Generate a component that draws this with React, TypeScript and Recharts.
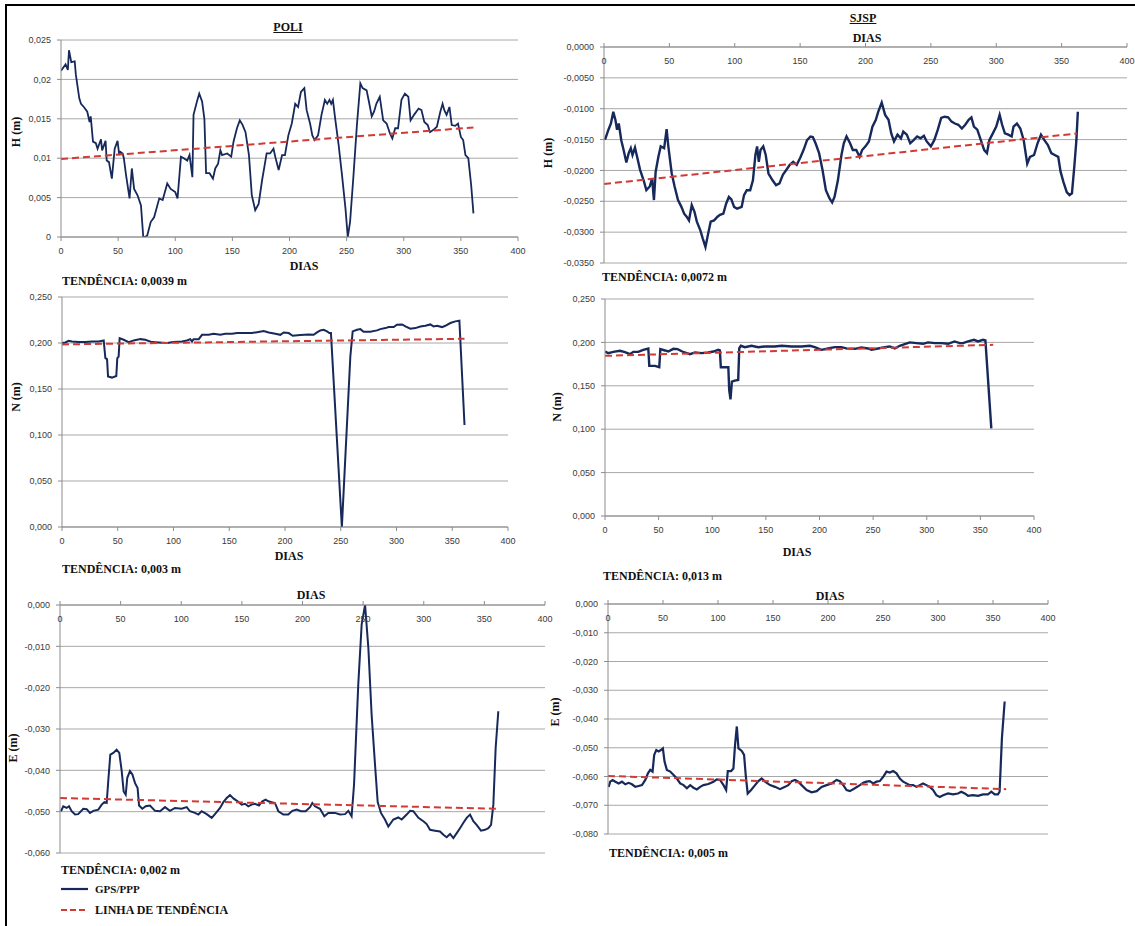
import { LineChart, Line, XAxis, YAxis, CartesianGrid } from 'recharts'

const SERIF = '"Liberation Serif", "Times New Roman", "DejaVu Serif", serif'
const SANS = '"Liberation Sans", Arial, sans-serif'
const NAVY = '#17295a'
const RED = '#d23a35'
const GRID = '#a8a8a8'
const AXIS = '#8c8c8c'
const TICK_TEXT = '#3a3a3a'

const dayTicks = [0, 50, 100, 150, 200, 250, 300, 350, 400]
const poliHTicks = [0, 0.005, 0.01, 0.015, 0.02, 0.025]
const sjspHTicks = [-0.035, -0.03, -0.025, -0.02, -0.015, -0.01, -0.005, 0]
const nTicks = [0, 0.05, 0.1, 0.15, 0.2, 0.25]
const poliETicks = [-0.06, -0.05, -0.04, -0.03, -0.02, -0.01, 0]
const sjspETicks = [-0.08, -0.07, -0.06, -0.05, -0.04, -0.03, -0.02, -0.01, 0]

// [dia, valor em m]
const poliH: [number, number][] = [
  [0, 0.0211], [4, 0.0219], [6, 0.0212], [7, 0.0237], [9, 0.0222], [12, 0.0223], [13, 0.0206],
  [16, 0.0176], [17.5, 0.0169], [20, 0.0165], [23, 0.0159], [25, 0.0146], [26, 0.0153], [28, 0.0121],
  [30.5, 0.0119], [32, 0.0112], [35, 0.0124], [36, 0.011], [39, 0.0122], [40, 0.0097], [42, 0.0095],
  [44.5, 0.0074], [47, 0.0112], [49.5, 0.0122], [51, 0.0104], [52, 0.0108], [54, 0.0106], [55, 0.01],
  [57, 0.0078], [60, 0.0049], [62, 0.0087], [64, 0.0061], [67, 0.0053], [70, 0.004], [72, 0.0],
  [73.5, 0.0], [75.5, 0.0002], [78.5, 0.0019], [81.5, 0.0025], [86, 0.0049], [89, 0.0047], [93, 0.0068],
  [96, 0.0061], [100, 0.0057], [102, 0.0049], [105, 0.0102], [107.5, 0.01], [110.5, 0.0097],
  [112.5, 0.0104], [115, 0.0076], [116, 0.0155], [119, 0.0172], [121, 0.0182], [123.5, 0.0172],
  [125.5, 0.015], [127, 0.0081], [130, 0.0081], [133, 0.0074], [135, 0.0087], [137.5, 0.0093],
  [139.5, 0.011], [141, 0.0104], [145.5, 0.0106], [149, 0.0102], [151, 0.0121], [154, 0.0138],
  [156.5, 0.0148], [159, 0.0142], [161.5, 0.0133], [164.5, 0.0104], [167, 0.0053], [170, 0.0034],
  [173, 0.0042], [176, 0.0072], [178, 0.0089], [180, 0.0106], [183, 0.0106], [186, 0.0112],
  [187.5, 0.0102], [190.5, 0.0085], [193.5, 0.0104], [196, 0.0104], [199, 0.0129], [202, 0.0144],
  [205, 0.0169], [207.5, 0.0165], [210, 0.0184], [213, 0.0189], [215, 0.0161], [218, 0.0144],
  [220, 0.0129], [222, 0.0123], [225, 0.0129], [228, 0.0155], [231, 0.0174], [233, 0.0169],
  [235, 0.0174], [236.5, 0.0169], [238, 0.0174], [240, 0.015], [243, 0.0117], [246, 0.0078],
  [249, 0.0036], [251, 0.0], [253, 0.0019], [256, 0.0078], [259, 0.0142], [262, 0.0195], [264, 0.0189],
  [267.5, 0.0186], [269.5, 0.0172], [272, 0.0153], [274, 0.0159], [276, 0.0169], [279, 0.0178],
  [282, 0.0148], [285, 0.0144], [288, 0.0131], [290, 0.0125], [292.5, 0.0138], [295, 0.0138],
  [298, 0.0174], [301, 0.0182], [304, 0.0178], [306, 0.0148], [309, 0.0155], [313, 0.0163],
  [315.5, 0.0161], [318, 0.0146], [321, 0.0142], [323, 0.0133], [326, 0.0136], [329, 0.014],
  [332, 0.0159], [334, 0.0169], [335.5, 0.0161], [337.5, 0.0155], [340, 0.0165], [342, 0.0142],
  [345, 0.0141], [347.5, 0.0144], [350, 0.0127], [352, 0.0123], [354, 0.0104], [356.5, 0.01],
  [359, 0.0066], [361, 0.003],
]
const poliHTrend: [number, number][] = [[0, 0.0099], [361, 0.0139]]

const sjspH: [number, number][] = [
  [0.8, -0.015], [3.4, -0.0134], [5.3, -0.0124], [7.1, -0.0105], [8.7, -0.0118], [10, -0.0134],
  [11.3, -0.0124], [13.2, -0.0151], [15, -0.0167], [17.1, -0.0187], [18.9, -0.0172], [20.5, -0.0164],
  [21.8, -0.0175], [23.7, -0.0163], [25, -0.0175], [27.6, -0.0199], [30.3, -0.0216], [32.4, -0.0232],
  [35, -0.0226], [36.8, -0.0213], [38.2, -0.0248], [39.5, -0.0202], [41.6, -0.0178], [43.4, -0.0161],
  [46, -0.0164], [47.9, -0.0133], [49.2, -0.0161], [51.8, -0.0205], [54, -0.0226], [56.6, -0.0248],
  [59.2, -0.0259], [61.3, -0.027], [63.2, -0.0275], [65, -0.0281], [67.1, -0.0256], [69.2, -0.0267],
  [71, -0.0283], [73.7, -0.0297], [75.5, -0.031], [77.6, -0.0324], [79.7, -0.0302], [81.6, -0.0283],
  [84.2, -0.0281], [86.8, -0.0275], [88.7, -0.0272], [91.3, -0.027], [93.4, -0.0254], [95.5, -0.0243],
  [97.4, -0.0247], [99.5, -0.0259], [101.8, -0.0262], [105.3, -0.0259], [107.1, -0.024], [109.2, -0.0232],
  [111.8, -0.0232], [113.9, -0.0216], [115.8, -0.0175], [117.1, -0.0161], [118.4, -0.0186],
  [119.7, -0.0167], [121.8, -0.0161], [123.7, -0.0175], [125.8, -0.0205], [128.9, -0.0216],
  [131.6, -0.0224], [134.2, -0.0221], [136.8, -0.0207], [139.5, -0.0199], [142.1, -0.0191],
  [144.7, -0.0186], [147.4, -0.0191], [150, -0.018], [152.6, -0.0167], [155.3, -0.0151], [157.9, -0.0145],
  [159.7, -0.0146], [161.8, -0.0156], [164.5, -0.0172], [167.1, -0.0199], [169.7, -0.0232],
  [172.4, -0.0245], [174.5, -0.0252], [176.3, -0.0243], [178.9, -0.0216], [181.6, -0.0175],
  [183.4, -0.0156], [185.5, -0.0145], [188.2, -0.0156], [190.3, -0.0167], [192.9, -0.0167],
  [195.5, -0.0178], [197.4, -0.0167], [200, -0.0161], [202.6, -0.0153], [205.3, -0.0129],
  [207.9, -0.0118], [209.7, -0.0105], [212.4, -0.009], [215, -0.011], [217.6, -0.0118], [219.7, -0.014],
  [221.8, -0.0153], [224.5, -0.0142], [227.1, -0.0148], [228.9, -0.0137], [231.6, -0.0142],
  [234.2, -0.0156], [236.8, -0.0151], [239.5, -0.0145], [242.1, -0.0148], [244.7, -0.0144],
  [246.8, -0.0153], [250, -0.0161], [252.6, -0.0151], [255.3, -0.0134], [257.9, -0.0115],
  [260.5, -0.0113], [263.2, -0.0114], [265.8, -0.0121], [268.4, -0.0124], [271, -0.0126],
  [273.7, -0.0132], [276.3, -0.0126], [278.9, -0.0118], [281, -0.0114], [282.9, -0.0129],
  [285.5, -0.0134], [288.2, -0.0151], [290.8, -0.0167], [292.9, -0.0172], [294.7, -0.0151],
  [297.4, -0.014], [300, -0.0129], [302.6, -0.011], [304.5, -0.0126], [306.6, -0.014], [309.2, -0.0142],
  [311.8, -0.0145], [313.2, -0.0129], [315.8, -0.0124], [318.4, -0.0132], [321, -0.0151],
  [323.7, -0.0189], [325.8, -0.0178], [328.9, -0.0175], [331.6, -0.0156], [334.2, -0.0142],
  [336.8, -0.0151], [339.5, -0.0159], [342.1, -0.0172], [344.7, -0.0175], [347.4, -0.0178],
  [349.2, -0.0202], [351.3, -0.0218], [353.9, -0.0235], [356, -0.024], [357.9, -0.0237],
  [359.7, -0.0194], [361.3, -0.0151], [362.4, -0.0105],
]
const sjspHTrend: [number, number][] = [[0, -0.0222], [362, -0.014]]

const poliN: [number, number][] = [
  [0, 0.2], [3, 0.2006], [6, 0.2024], [9, 0.2017], [15, 0.201], [21, 0.201], [27, 0.2017], [33, 0.2017],
  [37.4, 0.2028], [38.9, 0.1835], [40.4, 0.1824], [41.3, 0.1635], [44.8, 0.1624], [48.7, 0.1642],
  [49.6, 0.1835], [50.8, 0.1853], [51.7, 0.2053], [55.3, 0.2035], [59.8, 0.201], [64.3, 0.2028],
  [70.3, 0.2042], [74.7, 0.2035], [80.7, 0.201], [86.7, 0.2006], [94.2, 0.2], [100, 0.201],
  [107.6, 0.2017], [112, 0.2028], [115, 0.2042], [116.6, 0.2017], [118, 0.2042], [122.6, 0.2042],
  [125.6, 0.2089], [131.5, 0.2089], [136, 0.21], [142, 0.2089], [146.5, 0.21], [152.5, 0.21],
  [157, 0.2108], [163, 0.2108], [170.4, 0.2108], [175, 0.2118], [180.9, 0.2129], [185.4, 0.2115],
  [191.3, 0.21], [195.8, 0.2089], [198.8, 0.2115], [203.3, 0.2108], [206.9, 0.2078], [213.8, 0.2086],
  [221.2, 0.2093], [225.7, 0.2089], [228.7, 0.2115], [231.7, 0.2137], [234.7, 0.2144], [237.7, 0.2126],
  [239.8, 0.2108], [241.2, 0.2108], [251, 0.0], [258.6, 0.1853], [260.7, 0.2126], [264.6, 0.2144],
  [267.6, 0.2151], [270.5, 0.2122], [276.5, 0.2122], [282.5, 0.2137], [285.5, 0.2151], [290, 0.2162],
  [293, 0.2173], [297.5, 0.2173], [300.4, 0.2198], [305, 0.2202], [308, 0.218], [312.4, 0.2155],
  [316.9, 0.2162], [321.4, 0.218], [325.9, 0.2187], [330.3, 0.2202], [333.3, 0.218], [336.3, 0.2187],
  [340.8, 0.2173], [343.8, 0.2187], [348.3, 0.2217], [352.8, 0.2235], [356.4, 0.2242], [361, 0.1108],
]
const poliNTrend: [number, number][] = [[0, 0.1985], [361, 0.2046]]

const sjspN: [number, number][] = [
  [0, 0.1895], [3, 0.1876], [7.8, 0.1891], [14, 0.1903], [18.6, 0.1888], [23.3, 0.1864], [26.4, 0.1891],
  [31, 0.1891], [35.7, 0.1914], [40.4, 0.193], [41.3, 0.173], [46.6, 0.173], [50.6, 0.1714],
  [51.6, 0.1922], [55.9, 0.1907], [59, 0.1895], [63.7, 0.1926], [67.7, 0.1922], [72, 0.1895],
  [79.2, 0.1864], [83.9, 0.1884], [90, 0.1876], [96.3, 0.1884], [101, 0.1895], [105.6, 0.1914],
  [107.1, 0.1907], [108, 0.1714], [113.4, 0.1714], [115, 0.1714], [115.8, 0.1452], [117, 0.1344],
  [118.3, 0.1548], [121, 0.156], [124.2, 0.1568], [125.2, 0.1934], [126.7, 0.1961], [130.4, 0.1945],
  [136.6, 0.1961], [142.9, 0.1945], [149, 0.1953], [158.4, 0.1953], [164.6, 0.1961], [174, 0.1953],
  [183.2, 0.1953], [191, 0.1961], [195.6, 0.1945], [201.9, 0.1914], [208, 0.193], [214.3, 0.1945],
  [220.5, 0.1945], [226.7, 0.1926], [233, 0.1926], [239, 0.1941], [245.3, 0.193], [248.4, 0.1914],
  [254.6, 0.193], [260.9, 0.1945], [265.5, 0.1953], [270.2, 0.193], [274.8, 0.1961], [279.5, 0.198],
  [284.2, 0.2], [290.4, 0.1992], [296.6, 0.1984], [301.2, 0.2], [307.5, 0.1992], [313.7, 0.1992],
  [319.9, 0.1984], [326, 0.2011], [330.7, 0.1992], [333.9, 0.1992], [338.5, 0.2011], [344.1, 0.203],
  [347.8, 0.2011], [352.5, 0.203], [354.7, 0.2022], [360.2, 0.1009],
]
const sjspNTrend: [number, number][] = [[0, 0.1845], [362, 0.1972]]

const poliE: [number, number][] = [
  [0.8, -0.0499], [2.7, -0.0487], [5.5, -0.0491], [7.4, -0.0487], [9.6, -0.0499], [12.4, -0.0507],
  [15, -0.0506], [19.2, -0.0493], [22, -0.0494], [24.7, -0.0503], [27.5, -0.0498], [31.6, -0.0495],
  [34.4, -0.0483], [36.6, -0.0477], [38.5, -0.0479], [39.9, -0.0422], [41.5, -0.0362], [44, -0.0358],
  [46.7, -0.035], [48.9, -0.0358], [50.9, -0.0402], [52.5, -0.0451], [54.2, -0.0459], [55.5, -0.0418],
  [57.7, -0.0402], [59.7, -0.041], [61.9, -0.0431], [64, -0.0443], [65.2, -0.0485], [67.9, -0.0493],
  [70.7, -0.0487], [74.2, -0.0485], [78.4, -0.0498], [82.5, -0.0499], [86.6, -0.0489], [90.7, -0.0498],
  [94.8, -0.0491], [100.3, -0.0493], [104.5, -0.0489], [107.2, -0.0499], [111.3, -0.0503],
  [114.1, -0.0507], [116.8, -0.0499], [121, -0.0506], [125.1, -0.0515], [127.8, -0.0506], [132, -0.0491],
  [134.7, -0.0477], [137.5, -0.0467], [140.2, -0.046], [143, -0.0468], [146.5, -0.0475], [149.8, -0.0483],
  [152.6, -0.0481], [155.3, -0.0487], [158, -0.0483], [160.8, -0.0481], [164.1, -0.0485], [166.9, -0.0475],
  [169.6, -0.0471], [171.8, -0.0475], [174.6, -0.0477], [177.3, -0.0479], [180.1, -0.0499],
  [184.2, -0.0507], [188.3, -0.0507], [191.6, -0.0498], [195.2, -0.0495], [198.8, -0.0499],
  [202.6, -0.0499], [206.2, -0.0489], [208.1, -0.0479], [210.3, -0.0487], [214.4, -0.0493], [218, -0.0511],
  [221.3, -0.0503], [226.8, -0.0503], [230.9, -0.0507], [235.1, -0.0506], [237.8, -0.0498],
  [240.5, -0.0511], [242.5, -0.0435], [246, -0.0192], [248.8, -0.0047], [251.6, 0.0], [254.3, -0.0103],
  [257, -0.0265], [259.8, -0.0386], [262, -0.0477], [264.7, -0.0503], [268, -0.0519], [270.8, -0.0536],
  [274.9, -0.0519], [279, -0.0514], [281.8, -0.0519], [285.9, -0.0507], [288.7, -0.0498], [291.4, -0.0499],
  [295.6, -0.0515], [299.7, -0.0523], [302.4, -0.053], [305.2, -0.0544], [309.3, -0.0546], [313.4, -0.0548],
  [316.2, -0.0556], [318.9, -0.0562], [321.7, -0.0554], [324.4, -0.0564], [327.2, -0.0552], [329.9, -0.054],
  [332.7, -0.0527], [335.4, -0.0515], [338.2, -0.0507], [340.9, -0.0523], [343.6, -0.0532],
  [347.2, -0.0546], [350.5, -0.0544], [353.3, -0.054], [355.5, -0.0532], [357.4, -0.0483],
  [359.3, -0.0346], [361.5, -0.0257],
]
const poliETrend: [number, number][] = [[0, -0.0467], [360, -0.0493]]

const sjspE: [number, number][] = [
  [0.6, -0.0636], [2, -0.0618], [4.2, -0.0612], [6.7, -0.0618], [9.7, -0.0624], [12.7, -0.0618],
  [15.7, -0.0627], [18.8, -0.0622], [21.8, -0.0627], [24.8, -0.0636], [27.8, -0.0633], [30.9, -0.063],
  [33.9, -0.0612], [36.3, -0.0589], [38.4, -0.0577], [40.5, -0.0583], [42, -0.0525], [43.9, -0.0508],
  [46, -0.0513], [48.1, -0.0508], [49.9, -0.0502], [51.4, -0.0548], [53.5, -0.0577], [56.6, -0.0583],
  [59.6, -0.0595], [62.6, -0.0607], [65.6, -0.0624], [68.7, -0.063], [71.7, -0.0641], [74.7, -0.063],
  [77.7, -0.0639], [80.8, -0.0645], [83.8, -0.0636], [86.8, -0.063], [91.3, -0.0626], [95.9, -0.0618],
  [98.9, -0.061], [101.9, -0.0612], [105, -0.063], [107.4, -0.0647], [108.9, -0.0581], [111.9, -0.0581],
  [114, -0.0572], [115.5, -0.049], [117.1, -0.0426], [118.6, -0.0502], [121.6, -0.0511], [123.7, -0.0525],
  [125.2, -0.0595], [127, -0.0659], [130.1, -0.0647], [133.7, -0.063], [136.7, -0.0616], [139.7, -0.0607],
  [142.8, -0.0618], [147.3, -0.063], [151.8, -0.0636], [156.4, -0.0644], [160.9, -0.0636], [163.9, -0.063],
  [167, -0.0616], [170, -0.0612], [173, -0.0618], [176, -0.063], [180.6, -0.0647], [185.1, -0.0655],
  [189.7, -0.0651], [194.2, -0.0636], [198.7, -0.063], [203.3, -0.0624], [207.8, -0.0612], [210.8, -0.0616],
  [213.9, -0.063], [216.9, -0.0647], [219.9, -0.0651], [224.4, -0.0641], [229, -0.063], [232, -0.0622],
  [235, -0.0618], [238, -0.0616], [241.1, -0.0624], [244.1, -0.0618], [247.1, -0.0616], [250.2, -0.0601],
  [253.2, -0.0583], [256.2, -0.0586], [259.2, -0.0581], [262.3, -0.0589], [265.3, -0.0607], [268.3, -0.0618],
  [271.3, -0.0624], [274.4, -0.063], [277.4, -0.063], [280.4, -0.0636], [283.4, -0.063], [286.4, -0.0624],
  [289.5, -0.063], [292.5, -0.0636], [295.5, -0.0647], [298.5, -0.0665], [301.6, -0.0671], [304.6, -0.0665],
  [309.1, -0.0659], [313.7, -0.0662], [318.2, -0.0659], [321.2, -0.0653], [324.3, -0.0659], [327.3, -0.0667],
  [331.8, -0.0665], [336.4, -0.0667], [340.9, -0.0662], [345.4, -0.0662], [348.5, -0.0653], [351.5, -0.0662],
  [354.5, -0.0662], [356, -0.0653], [358.1, -0.0467], [360.6, -0.0339],
]
const sjspETrend: [number, number][] = [[0, -0.0598], [362, -0.0644]]

const comma = (s: string) => s.replace('.', ',')
const fmtPoliH = (v: number) => comma(String(Number(v.toFixed(3))))
const fmt4 = (v: number) => comma(v.toFixed(4))
const fmt3 = (v: number) => comma(v.toFixed(3))

const YW = 60
const XH = 22
const PAD = 24
const TOP_PAD = 10

type PanelProps = {
  left: number
  top: number
  width: number
  height: number
  series: [number, number][]
  trend: [number, number][]
  yTicks: number[]
  fmt: (v: number) => string
  axisTop?: boolean
  lineWidth?: number
}

function Panel({ left, top, width, height, series, trend, yTicks, fmt, axisTop = false, lineWidth = 2 }: PanelProps) {
  const data = series.map(([day, value]) => ({ day, value }))
  const trendData = trend.map(([day, value]) => ({ day, value }))
  const padTop = axisTop ? 0 : TOP_PAD
  // y of the x axis line inside the svg
  const base = axisTop ? XH : padTop + height
  const xTick = ({ x, payload }: any) => (
    <text x={x} y={base + 17} textAnchor="middle" fontSize={9} fill={TICK_TEXT} fontFamily={SANS}>
      {payload.value}
    </text>
  )
  return (
    <div style={{ position: 'absolute', left: left - YW, top: axisTop ? top - XH : top - padTop }}>
      <LineChart
        width={YW + width + PAD}
        height={padTop + height + XH + 4}
        data={data}
        margin={{ top: padTop, right: PAD, bottom: 4, left: 0 }}
      >
        <CartesianGrid vertical={false} stroke={GRID} />
        <XAxis
          type="number"
          dataKey="day"
          domain={[0, 400]}
          ticks={dayTicks}
          interval={0}
          orientation={axisTop ? 'top' : 'bottom'}
          height={XH}
          stroke={AXIS}
          tickSize={4}
          tick={xTick}
          allowDataOverflow
        />
        <YAxis
          type="number"
          width={YW}
          domain={[yTicks[0], yTicks[yTicks.length - 1]]}
          ticks={yTicks}
          interval={0}
          tickFormatter={fmt}
          tick={{ fontSize: 9, fill: TICK_TEXT, fontFamily: SANS }}
          stroke={AXIS}
          tickSize={4}
          tickMargin={6}
          allowDataOverflow
        />
        <Line type="linear" dataKey="value" stroke={NAVY} strokeWidth={lineWidth} dot={false} activeDot={false} isAnimationActive={false} />
        <Line type="linear" data={trendData} dataKey="value" stroke={RED} strokeWidth={2} strokeDasharray="7 4" dot={false} activeDot={false} isAnimationActive={false} />
      </LineChart>
    </div>
  )
}

function Txt({ x, y, children, align = 'center', size = 12, underline = false, rotate = false }: any) {
  const tf = align === 'center' ? 'translate(-50%, -50%)' : 'translate(0, -50%)'
  return (
    <div
      style={{
        position: 'absolute',
        left: x,
        top: y,
        transform: rotate ? `${tf} rotate(-90deg)` : tf,
        fontFamily: SERIF,
        fontWeight: 'bold',
        fontSize: size,
        lineHeight: 1,
        whiteSpace: 'nowrap',
        color: '#111',
        textDecoration: underline ? 'underline' : 'none',
      }}
    >
      {children}
    </div>
  )
}

export default function App() {
  return (
    <div style={{ position: 'absolute', left: 0, top: 0, width: 1135, height: 926, background: '#fff', overflow: 'hidden' }}>
      <div style={{ position: 'absolute', left: 5, top: 4, width: 1140, height: 930, borderLeft: '2px solid #000', borderTop: '2px solid #000' }} />

      <Txt x={288} y={27} underline>POLI</Txt>
      <Txt x={863} y={18} underline>SJSP</Txt>

      <Panel left={61} top={40} width={457} height={197} series={poliH} trend={poliHTrend} yTicks={poliHTicks} fmt={fmtPoliH} lineWidth={1.8} />
      <Panel left={604} top={47} width={523} height={216} series={sjspH} trend={sjspHTrend} yTicks={sjspHTicks} fmt={fmt4} axisTop lineWidth={2.4} />
      <Panel left={62} top={297} width={446} height={230} series={poliN} trend={poliNTrend} yTicks={nTicks} fmt={fmt3} lineWidth={2} />
      <Panel left={605} top={299} width={429} height={217} series={sjspN} trend={sjspNTrend} yTicks={nTicks} fmt={fmt3} lineWidth={2.4} />
      <Panel left={60} top={605} width={485} height={248} series={poliE} trend={poliETrend} yTicks={poliETicks} fmt={fmt3} axisTop lineWidth={2} />
      <Panel left={608} top={604} width={440} height={230} series={sjspE} trend={sjspETrend} yTicks={sjspETicks} fmt={fmt3} axisTop lineWidth={2.2} />

      <Txt x={304} y={266}>DIAS</Txt>
      <Txt x={867} y={38}>DIAS</Txt>
      <Txt x={289} y={556}>DIAS</Txt>
      <Txt x={797} y={552}>DIAS</Txt>
      <Txt x={311} y={595}>DIAS</Txt>
      <Txt x={830} y={596}>DIAS</Txt>

      <Txt x={16} y={132} rotate>H (m)</Txt>
      <Txt x={548} y={153} rotate>H (m)</Txt>
      <Txt x={16} y={397} rotate>N (m)</Txt>
      <Txt x={557} y={407} rotate>N (m)</Txt>
      <Txt x={13} y={748} rotate>E (m)</Txt>
      <Txt x={555} y={712} rotate>E (m)</Txt>

      <Txt x={62} y={281} align="left">TENDÊNCIA: 0,0039 m</Txt>
      <Txt x={602} y={277} align="left">TENDÊNCIA: 0,0072 m</Txt>
      <Txt x={62} y={569} align="left">TENDÊNCIA: 0,003 m</Txt>
      <Txt x={603} y={576} align="left">TENDÊNCIA: 0,013 m</Txt>
      <Txt x={61} y={870} align="left">TENDÊNCIA: 0,002 m</Txt>
      <Txt x={609} y={853} align="left">TENDÊNCIA: 0,005 m</Txt>

      <svg style={{ position: 'absolute', left: 0, top: 0 }} width={100} height={926}>
        <line x1={61} y1={889} x2={88} y2={889} stroke={NAVY} strokeWidth={2.2} />
        <line x1={61} y1={910} x2={88} y2={910} stroke={RED} strokeWidth={2} strokeDasharray="6 3" />
      </svg>
      <Txt x={95} y={889} align="left" size={11}>GPS/PPP</Txt>
      <Txt x={95} y={910} align="left">LINHA DE TENDÊNCIA</Txt>
    </div>
  )
}
